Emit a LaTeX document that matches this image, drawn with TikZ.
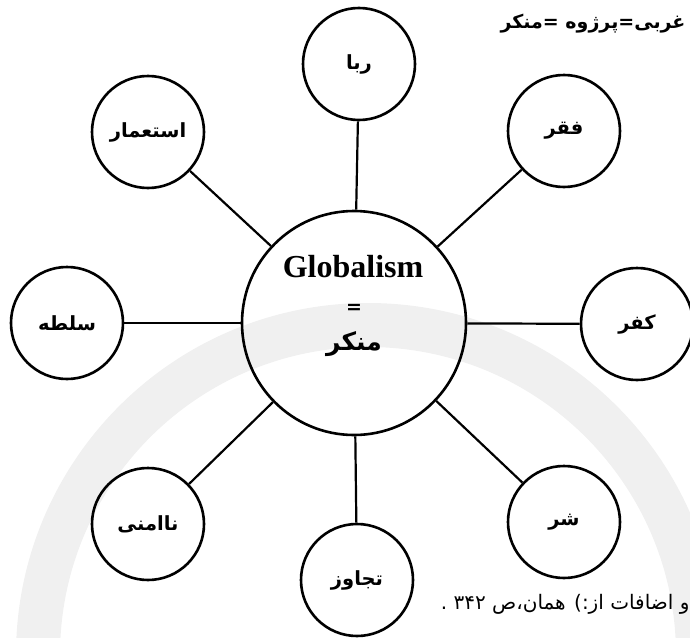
\documentclass[tikz,border=0pt]{standalone}
\usepackage{fontspec}
\setmainfont{Liberation Serif}
\newfontfamily\arabicfont[Script=Arabic]{DejaVu Sans}
\TeXXeTstate=1
\newcommand{\fa}[1]{\beginR #1\endR}
\tikzset{
  hub/.style={draw, circle, line width=2.6pt, minimum size=224pt, inner sep=0pt},
  leaf/.style={draw, circle, line width=2.6pt, minimum size=112pt, inner sep=0pt,
    font=\arabicfont\bfseries\fontsize{19.5}{22}\selectfont},
  link/.style={line width=2.2pt}
}

\begin{document}
\begin{tikzpicture}[x=1pt,y=-1pt]
  \useasboundingbox (0,0) rectangle (690,637);
  \draw[black!6, line width=44pt] (38,655) arc[start angle=180, end angle=360, radius=330];

  \node[hub] (globalism) at (354,323) {};
  \node[anchor=base, font=\bfseries\fontsize{32}{36}\selectfont] (hubtitle) at (353,277) {Globalism};
  \node[anchor=base, font=\arabicfont\bfseries\fontsize{19}{20}\selectfont] (hubeq) at (354,313) {=};
  \node[anchor=base, font=\arabicfont\bfseries\fontsize{25}{28}\selectfont] (hubword) at (354,350) {\fa{منکر}};

  \node[leaf] (riba) at (359,64) {\fa{ربا}};
  \node[leaf] (faqr) at (564,131) {\fa{فقر}};
  \node[leaf] (kufr) at (637,324) {\fa{کفر}};
  \node[leaf] (sharr) at (564,522) {\fa{شر}};
  \node[leaf] (tajavoz) at (357,580) {\fa{تجاوز}};
  \node[leaf] (naamni) at (148,524) {\fa{ناامنی}};
  \node[leaf] (solte) at (67,323) {\fa{سلطه}};
  \node[leaf] (esteamar) at (148,132) {\fa{استعمار}};

  \foreach \n in {riba,faqr,kufr,sharr,tajavoz,naamni,solte,esteamar}
    \draw[link] (globalism) -- (\n);

  \node[anchor=base east, font=\arabicfont\bfseries\fontsize{19}{22}\selectfont] (caption) at (689,28) {\fa{غربی=پرژوه =منکر}};
  \node[anchor=base east, font=\arabicfont\fontsize{20}{22}\selectfont] (source) at (693,609) {\fa{و اضافات از:) همان،ص \beginL ۳۴۲\endL{} .}};
\end{tikzpicture}
\end{document}
